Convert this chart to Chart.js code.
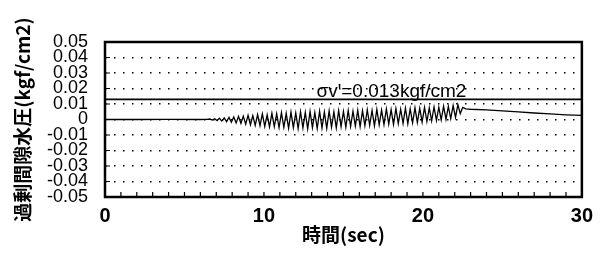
<!DOCTYPE html>
<html>
<head>
<meta charset="utf-8">
<script src="https://cdn.jsdelivr.net/npm/chart.js@4"></script>
<style>
  html, body { margin: 0; padding: 0; background: #ffffff; }
  #wrap { width: 600px; height: 263px; }
</style>
</head>
<body>
<div id="wrap"><canvas id="chart" width="600" height="263"></canvas></div>
<script>
// ======================================================
// DATA
// ======================================================

// time (sec)
const timeSec = [
  0, 2, 4, 6, 6.4,
  6.6, 6.75, 6.9, 7.05, 7.2, 7.35, 7.5, 7.65, 7.8, 7.95,
  8.1, 8.25, 8.4, 8.55, 8.7, 8.85, 9.0, 9.15, 9.3, 9.45,
  9.6, 9.75, 9.9, 10.05, 10.2, 10.35, 10.5, 10.65, 10.8, 10.95,
  11.1, 11.25, 11.4, 11.55, 11.7, 11.85, 12.0, 12.15, 12.3, 12.45,
  12.6, 12.75, 12.9, 13.05, 13.2, 13.35, 13.5, 13.65, 13.8, 13.95,
  14.1, 14.25, 14.4, 14.55, 14.7, 14.85, 15.0, 15.15, 15.3, 15.45,
  15.6, 15.75, 15.9, 16.05, 16.2, 16.35, 16.5, 16.65, 16.8, 16.95,
  17.1, 17.25, 17.4, 17.55, 17.7, 17.85, 18.0, 18.15, 18.3, 18.45,
  18.6, 18.75, 18.9, 19.05, 19.2, 19.35, 19.5, 19.65, 19.8, 19.95,
  20.1, 20.25, 20.4, 20.55, 20.7, 20.85, 21.0, 21.15, 21.3, 21.45,
  21.6, 21.75, 21.9, 22.05, 22.2, 22.35, 22.5,
  22.7, 23, 24, 25, 26, 27, 28, 29, 30
];

// excess pore water pressure (kgf/cm2)
const excessPorePressure = [
  0, 0, 0.0001, 0, 0.0001,
  0.0003, -0.0004, 0.0005, -0.0007, 0.0008, -0.0010, 0.0010, -0.0014, 0.0013, -0.0018,
  0.0016, -0.0022, 0.0020, -0.0026, 0.0022, -0.0030, 0.0027, -0.0034, 0.0025, -0.0038,
  0.0032, -0.0040, 0.0036, -0.0045, 0.0030, -0.0048, 0.0040, -0.0046, 0.0038, -0.0052,
  0.0044, -0.0050, 0.0040, -0.0056, 0.0048, -0.0052, 0.0043, -0.0058, 0.0050, -0.0054,
  0.0046, -0.0060, 0.0052, -0.0053, 0.0045, -0.0058, 0.0054, -0.0055, 0.0048, -0.0057,
  0.0055, -0.0050, 0.0049, -0.0054, 0.0057, -0.0046, 0.0052, -0.0050, 0.0058, -0.0045,
  0.0054, -0.0042, 0.0060, -0.0046, 0.0056, -0.0040, 0.0063, -0.0038, 0.0059, -0.0041,
  0.0065, -0.0035, 0.0061, -0.0033, 0.0068, -0.0030, 0.0064, -0.0032, 0.0071, -0.0027,
  0.0067, -0.0025, 0.0073, -0.0027, 0.0070, -0.0021, 0.0075, -0.0019, 0.0072, -0.0016,
  0.0078, -0.0013, 0.0075, -0.0009, 0.0081, -0.0006, 0.0079, -0.0002, 0.0086, 0.0001,
  0.0084, 0.0006, 0.0090, 0.0014, 0.0096, 0.0038, 0.0078,
  0.0069, 0.0066, 0.0062, 0.0056, 0.0049, 0.0042, 0.0036, 0.0030, 0.0026
];

// effective overburden stress line
const sigmaTime = [0, 30];
const sigmaValue = [0.013, 0.013];
const sigmaLabel = "σv'=0.013kgf/cm2";

// axis ticks
const xTickValues = [0, 10, 20, 30];
const xTickLabels = ["0", "10", "20", "30"];
const yTickLabels = [
  "-0.05", "-0.04", "-0.03", "-0.02", "-0.01", "0",
  "0.01", "0.02", "0.03", "0.04", "0.05"
];

const xTitle = "時間(sec)";
const yTitle = "過剰間隙水圧(kgf/cm2)";

// ======================================================
// PLUGINS
// ======================================================

// frame, inward tick marks and the σv' label
const framePlugin = {
  id: "frame",
  afterDatasetsDraw(chart) {
    const { ctx, chartArea: a, scales } = chart;
    ctx.save();
    ctx.strokeStyle = "#000";

    // inward ticks
    ctx.lineWidth = 1.2;
    ctx.beginPath();
    scales.x.ticks.forEach((t) => {
      const px = scales.x.getPixelForValue(t.value);
      ctx.moveTo(px, a.bottom);
      ctx.lineTo(px, a.bottom - 5);
    });
    scales.y.ticks.forEach((t) => {
      const py = scales.y.getPixelForValue(t.value);
      ctx.moveTo(a.left, py);
      ctx.lineTo(a.left + 5, py);
    });
    ctx.stroke();

    // frame
    ctx.lineWidth = 2.5;
    ctx.strokeRect(a.left, a.top, a.right - a.left, a.bottom - a.top);

    // label above the σv' line
    ctx.fillStyle = "#000";
    ctx.font = "19px 'Liberation Sans', Arial, sans-serif";
    ctx.textAlign = "left";
    ctx.textBaseline = "alphabetic";
    const lx = scales.x.getPixelForValue(13.3);
    const ly = scales.y.getPixelForValue(sigmaValue[0]) - 2;
    ctx.fillText(sigmaLabel, lx, ly);
    ctx.restore();
  },
};

// ======================================================
// CHART
// ======================================================

const ctx = document.getElementById("chart").getContext("2d");

new Chart(ctx, {
  type: "line",
  data: {
    datasets: [
      {
        label: "excess",
        data: timeSec.map((t, i) => ({ x: t, y: excessPorePressure[i] })),
        borderColor: "#000",
        borderWidth: 1.3,
        pointRadius: 0,
        tension: 0,
        fill: false,
      },
      {
        label: "sigma",
        data: sigmaTime.map((t, i) => ({ x: t, y: sigmaValue[i] })),
        borderColor: "#000",
        borderWidth: 1.6,
        pointRadius: 0,
        fill: false,
      },
    ],
  },
  options: {
    responsive: false,
    animation: false,
    layout: { padding: { top: 42, right: 16, left: 0, bottom: 0 } },
    plugins: {
      legend: { display: false },
      tooltip: { enabled: false },
    },
    scales: {
      x: {
        type: "linear",
        min: 0,
        max: 30,
        grid: { display: false, drawTicks: false },
        border: { display: false },
        ticks: {
          stepSize: 1,
          autoSkip: false,
          maxRotation: 0,
          padding: 7,
          color: "#000",
          font: { family: "'Liberation Sans Narrow', 'Arial Narrow', sans-serif", size: 20, weight: "bold" },
          callback: (v) => {
            const i = xTickValues.indexOf(v);
            return i >= 0 ? xTickLabels[i] : "";
          },
        },
        title: {
          display: true,
          text: xTitle,
          color: "#000",
          padding: { top: 0, bottom: 17 },
          font: { family: "'Noto Sans CJK JP', sans-serif", size: 19, weight: "bold" },
        },
        afterFit: (scale) => { scale.height = 66; },
      },
      y: {
        min: -0.05,
        max: 0.05,
        grid: {
          color: "#000",
          lineWidth: 1.5,
          drawTicks: false,
        },
        border: { display: false, dash: [1.5, 7.5] },
        ticks: {
          stepSize: 0.01,
          autoSkip: false,
          padding: 17,
          color: "#000",
          font: { family: "'Liberation Sans', Arial, sans-serif", size: 18 },
          callback: (v, i) => yTickLabels[i],
        },
        title: {
          display: true,
          text: yTitle,
          color: "#000",
          padding: { top: 11, bottom: 0 },
          font: { family: "'Noto Sans CJK JP', sans-serif", size: 19, weight: "bold" },
        },
        afterFit: (scale) => { scale.width = 105; },
      },
    },
  },
  plugins: [framePlugin],
});
</script>
</body>
</html>
